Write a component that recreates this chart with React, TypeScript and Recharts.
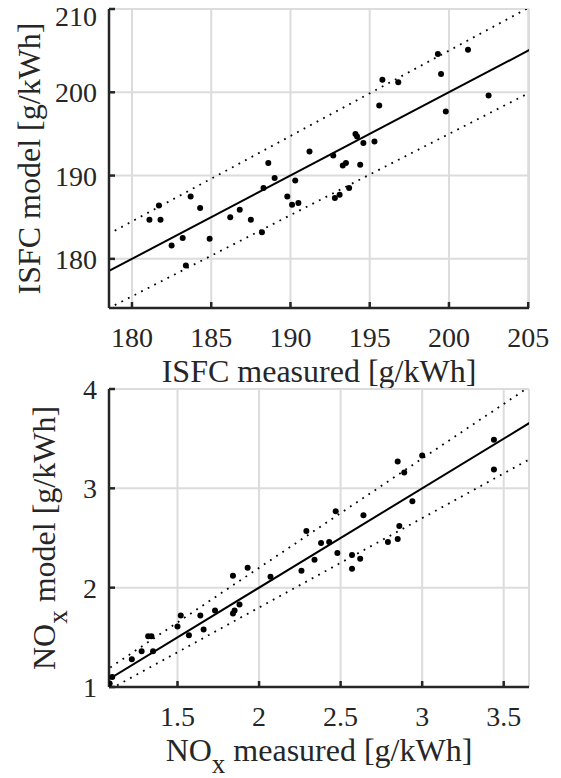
import { CartesianGrid, ComposedChart, Label, Line, Scatter, XAxis, YAxis } from 'recharts';

const FONT = 'Liberation Serif, Times New Roman, DejaVu Serif, serif';
const INK = '#262626';
const GRID = '#dcdcdc';

// ISFC [g/kWh]
const isfcMeasured = [
  199.3, 201.2, 195.8, 196.8, 199.5, 202.5, 195.6, 199.8, 194.1, 194.2,
  194.6, 195.3, 191.2, 192.7, 193.3, 193.5, 194.4, 188.6, 189.0, 190.3,
  188.3, 189.8, 190.1, 190.5, 192.8, 193.1, 193.7, 181.7, 183.7, 184.3,
  181.1, 181.8, 186.2, 186.8, 187.5, 188.2, 183.2, 182.5, 184.9, 183.4,
];
const isfcModel = [
  204.6, 205.1, 201.5, 201.2, 202.2, 199.6, 198.4, 197.7, 195.0, 194.7,
  193.9, 194.1, 192.9, 192.4, 191.2, 191.5, 191.3, 191.5, 189.7, 189.4,
  188.5, 187.5, 186.5, 186.7, 187.3, 187.7, 188.5, 186.4, 187.5, 186.1,
  184.7, 184.7, 185.0, 185.9, 184.7, 183.2, 182.5, 181.6, 182.4, 179.2,
];
const isfcTicksX = [180, 185, 190, 195, 200, 205];
const isfcTicksY = [180, 190, 200, 210];

// 1:1 line and the ±2.5 % band (end points)
const isfcLineX = [178.5, 205.1];
const isfcFitY = [178.5, 205.1];
const isfcUpperY = [182.96, 210.23];
const isfcLowerY = [174.04, 199.97];

// NOx [g/kWh]
const noxMeasured = [
  3.44, 3.44, 2.85, 3.0, 2.89, 2.94, 2.47, 2.64, 2.29, 2.86,
  2.38, 2.43, 2.79, 2.85, 2.48, 2.57, 2.62, 2.34, 2.26, 2.57,
  2.07, 1.84, 1.93, 1.88, 1.85, 1.84, 1.73, 1.64, 1.52, 1.5,
  1.66, 1.57, 1.32, 1.34, 1.28, 1.35, 1.22, 1.1, 1.084,
];
const noxModel = [
  3.49, 3.19, 3.27, 3.33, 3.16, 2.87, 2.77, 2.73, 2.57, 2.62,
  2.45, 2.46, 2.46, 2.49, 2.35, 2.33, 2.29, 2.28, 2.17, 2.19,
  2.11, 2.12, 2.2, 1.83, 1.77, 1.74, 1.77, 1.72, 1.72, 1.61,
  1.58, 1.52, 1.51, 1.51, 1.36, 1.36, 1.28, 1.1, 1.034,
];
const noxTicksX = [1.5, 2, 2.5, 3, 3.5];
const noxTicksY = [1, 2, 3, 4];

// 1:1 line and the ±10 % band (end points)
const noxLineX = [1.05, 3.7];
const noxFitY = [1.05, 3.7];
const noxUpperY = [1.155, 4.07];
const noxLowerY = [0.945, 3.33];

const toPoints = (xs: number[], ys: number[]) => xs.map((x, i) => ({ x, y: ys[i] }));

const tickStyle = { fill: INK, fontSize: 28, style: { fontFamily: FONT } };
const axisStroke = { stroke: INK, strokeWidth: 2.5 };

const dot = (props: any) => <circle cx={props.cx} cy={props.cy} r={3} fill="#000" />;

type Title = { main: string; sub?: string; rest: string };

const titleSpans = (t: Title) => (
  <>
    <tspan>{t.main}</tspan>
    {t.sub && (
      <tspan dy={12} fontSize={27}>
        {t.sub}
      </tspan>
    )}
    <tspan dy={t.sub ? -12 : 0}>{t.rest}</tspan>
  </>
);

const xTitle = (t: Title, offset: number) => (props: any) => {
  const vb = props.viewBox || { x: 109, y: 308, width: 420 };
  return (
    <text
      x={vb.x + vb.width / 2}
      y={vb.y + offset}
      textAnchor="middle"
      fill={INK}
      fontSize={32}
      style={{ fontFamily: FONT }}
    >
      {titleSpans(t)}
    </text>
  );
};

const yTitle = (t: Title, x: number) => (props: any) => {
  const vb = props.viewBox || { x: 0, y: 9, height: 299 };
  const cy = vb.y + vb.height / 2;
  return (
    <text
      x={x}
      y={cy}
      transform={`rotate(-90, ${x}, ${cy})`}
      textAnchor="middle"
      fill={INK}
      fontSize={32}
      style={{ fontFamily: FONT }}
    >
      {titleSpans(t)}
    </text>
  );
};

type PanelProps = {
  height: number;
  top: number;
  axisHeight: number;
  xDomain: [number, number];
  yDomain: [number, number];
  xTicks: number[];
  yTicks: number[];
  points: { x: number; y: number }[];
  lineX: number[];
  fitY: number[];
  upperY: number[];
  lowerY: number[];
  xLabel: Title;
  yLabel: Title;
  xLabelOffset: number;
  yLabelX: number;
};

function Panel(p: PanelProps) {
  return (
    <ComposedChart width={561} height={p.height} margin={{ top: p.top, right: 32, bottom: 0, left: 0 }}>
      <CartesianGrid stroke={GRID} strokeWidth={2} />
      <XAxis
        dataKey="x"
        type="number"
        domain={p.xDomain}
        allowDataOverflow
        ticks={p.xTicks}
        height={p.axisHeight}
        tickSize={-6}
        tickMargin={25}
        tick={tickStyle}
        axisLine={axisStroke}
        tickLine={axisStroke}
      >
        <Label content={xTitle(p.xLabel, p.xLabelOffset)} />
      </XAxis>
      <XAxis
        xAxisId="top"
        orientation="top"
        type="number"
        domain={p.xDomain}
        allowDataOverflow
        ticks={p.xTicks}
        height={0}
        tickSize={-6}
        tick={false}
        axisLine={axisStroke}
        tickLine={axisStroke}
      />
      <YAxis
        dataKey="y"
        type="number"
        domain={p.yDomain}
        allowDataOverflow
        ticks={p.yTicks}
        width={109}
        tickSize={-6}
        tickMargin={18}
        tick={tickStyle}
        axisLine={axisStroke}
        tickLine={axisStroke}
      >
        <Label content={yTitle(p.yLabel, p.yLabelX)} />
      </YAxis>
      <YAxis
        yAxisId="right"
        orientation="right"
        type="number"
        domain={p.yDomain}
        allowDataOverflow
        ticks={p.yTicks}
        width={0}
        tickSize={-6}
        tick={false}
        axisLine={axisStroke}
        tickLine={axisStroke}
      />
      <Line
        data={toPoints(p.lineX, p.upperY)}
        dataKey="y"
        stroke="#000"
        strokeWidth={1.8}
        strokeDasharray="1.8 5.6"
        dot={false}
        isAnimationActive={false}
      />
      <Line
        data={toPoints(p.lineX, p.lowerY)}
        dataKey="y"
        stroke="#000"
        strokeWidth={1.8}
        strokeDasharray="1.8 5.6"
        dot={false}
        isAnimationActive={false}
      />
      <Line
        data={toPoints(p.lineX, p.fitY)}
        dataKey="y"
        stroke="#000"
        strokeWidth={2}
        dot={false}
        isAnimationActive={false}
      />
      <Scatter data={p.points} fill="#000" shape={dot} isAnimationActive={false} />
    </ComposedChart>
  );
}

export default function App() {
  return (
    <div
      style={{
        position: 'absolute',
        left: 0,
        top: 0,
        width: 561,
        height: 778,
        background: '#fff',
        fontFamily: FONT,
      }}
    >
      <div style={{ position: 'absolute', left: 0, top: 0 }}>
        <Panel
          height={400}
          top={9}
          axisHeight={92}
          xDomain={[178.55, 205.05]}
          yDomain={[174.1, 210]}
          xTicks={isfcTicksX}
          yTicks={isfcTicksY}
          points={toPoints(isfcMeasured, isfcModel)}
          lineX={isfcLineX}
          fitY={isfcFitY}
          upperY={isfcUpperY}
          lowerY={isfcLowerY}
          xLabel={{ main: 'ISFC measured [g/kWh]', rest: '' }}
          yLabel={{ main: 'ISFC model [g/kWh]', rest: '' }}
          xLabelOffset={74}
          yLabelX={40}
        />
      </div>
      <div style={{ position: 'absolute', left: 0, top: 370 }}>
        <Panel
          height={408}
          top={19}
          axisHeight={91}
          xDomain={[1.08, 3.655]}
          yDomain={[1, 4]}
          xTicks={noxTicksX}
          yTicks={noxTicksY}
          points={toPoints(noxMeasured, noxModel)}
          lineX={noxLineX}
          fitY={noxFitY}
          upperY={noxUpperY}
          lowerY={noxLowerY}
          xLabel={{ main: 'NO', sub: 'x', rest: ' measured [g/kWh]' }}
          yLabel={{ main: 'NO', sub: 'x', rest: ' model [g/kWh]' }}
          xLabelOffset={74}
          yLabelX={55}
        />
      </div>
    </div>
  );
}
